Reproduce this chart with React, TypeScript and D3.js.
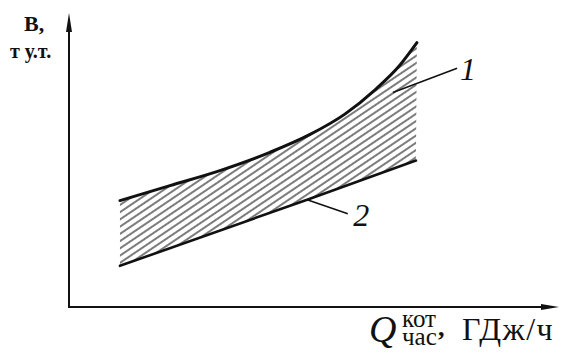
import React from "react";
import * as d3 from "d3";

// Curve 1 (upper boundary) and curve 2 (lower boundary), in relative units
const upperX = [1.04, 2.06, 3.08, 4.1, 4.92, 5.63, 6.24, 6.76, 7.1];
const upperY = [3.62, 4.13, 4.64, 5.26, 5.87, 6.56, 7.38, 8.24, 8.99];
const lowerX = [1.04, 4.86, 7.08];
const lowerY = [1.4, 3.65, 4.98];

const W = 562;
const H = 352;
const FONT = "Liberation Serif";

export default function App() {
  const x = d3.scaleLinear().domain([0, 10]).range([69, 559]);
  const y = d3.scaleLinear().domain([0, 10]).range([307, 13]);

  const upper = upperX.map((v, i) => [v, upperY[i]] as [number, number]);
  const lower = lowerX.map((v, i) => [v, lowerY[i]] as [number, number]);

  const upperLine = d3
    .line<[number, number]>()
    .x((d) => x(d[0]))
    .y((d) => y(d[1]))
    .curve(d3.curveMonotoneX);
  const lowerLine = d3
    .line<[number, number]>()
    .x((d) => x(d[0]))
    .y((d) => y(d[1]));

  const upperPath = upperLine(upper) || "";
  const lowerPath = lowerLine(lower) || "";
  const lowerBack = (lowerLine([...lower].reverse()) || "").replace(/^M/, "L");
  const bandPath = upperPath + lowerBack + "Z";

  const x0 = x(0);
  const y0 = y(0);
  const xEnd = x(10);
  const yEnd = y(10);

  // leader lines for curve labels (relative units)
  const lead1 = [
    [6.61, 7.3],
    [7.92, 8.12],
  ];
  const lead2 = [
    [lowerX[1], lowerY[1]],
    [5.69, 3.17],
  ];

  return (
    <svg
      width={W}
      height={H}
      style={{ position: "absolute", left: 0, top: 0, background: "#fff" }}
    >
      <defs>
        <pattern
          id="hatch"
          patternUnits="userSpaceOnUse"
          width={6}
          height={6}
          patternTransform="rotate(-34)"
        >
          <line x1={0} y1={3} x2={6} y2={3} stroke="#222" strokeWidth={1.2} />
        </pattern>
      </defs>

      {/* hatched band between the two curves */}
      <path d={bandPath} fill="url(#hatch)" stroke="none" />

      {/* axes */}
      <line x1={x0} y1={y0} x2={x0} y2={yEnd + 14} stroke="#111" strokeWidth={2} />
      <path
        d={`M${x0},${yEnd} L${x0 - 3},${yEnd + 19} L${x0 + 3},${yEnd + 19} Z`}
        fill="#111"
      />
      <line x1={x0 - 1} y1={y0} x2={xEnd - 14} y2={y0} stroke="#111" strokeWidth={2} />
      <path
        d={`M${xEnd},${y0} L${xEnd - 18},${y0 - 3} L${xEnd - 18},${y0 + 3} Z`}
        fill="#111"
      />

      {/* curves */}
      <path d={upperPath} fill="none" stroke="#111" strokeWidth={3} strokeLinecap="round" />
      <path d={lowerPath} fill="none" stroke="#111" strokeWidth={2.6} strokeLinecap="round" />

      {/* leaders */}
      <line
        x1={x(lead1[0][0])}
        y1={y(lead1[0][1])}
        x2={x(lead1[1][0])}
        y2={y(lead1[1][1])}
        stroke="#111"
        strokeWidth={1.6}
      />
      <line
        x1={x(lead2[0][0])}
        y1={y(lead2[0][1])}
        x2={x(lead2[1][0])}
        y2={y(lead2[1][1])}
        stroke="#111"
        strokeWidth={1.6}
      />
      <text
        x={x(7.98)}
        y={y(7.71)}
        fontFamily={FONT}
        fontStyle="italic"
        fontSize={32}
        fill="#111"
      >
        1
      </text>
      <text
        x={x(5.8)}
        y={y(2.76)}
        fontFamily={FONT}
        fontStyle="italic"
        fontSize={32}
        fill="#111"
      >
        2
      </text>

      {/* y axis title */}
      <text x={24} y={31} fontFamily={FONT} fontWeight="bold" fontSize={22} fill="#111">
        В,
      </text>
      <text x={10} y={58} fontFamily={FONT} fontWeight="bold" fontSize={20} fill="#111">
        т у.т.
      </text>

      {/* x axis title */}
      <text x={369} y={342} fontFamily={FONT} fontStyle="italic" fontSize={38} fill="#111">
        Q
      </text>
      <text x={402} y={327} fontFamily={FONT} fontSize={25} fill="#111">
        кот
      </text>
      <text x={402} y={345} fontFamily={FONT} fontSize={25} fill="#111">
        час
      </text>
      <text x={438} y={336} fontFamily={FONT} fontWeight="bold" fontSize={26} fill="#111">
        ,
      </text>
      <text
        x={462}
        y={340}
        fontFamily={FONT}
        fontSize={32}
        letterSpacing={1.5}
        fill="#111"
      >
        ГДж/ч
      </text>
    </svg>
  );
}
